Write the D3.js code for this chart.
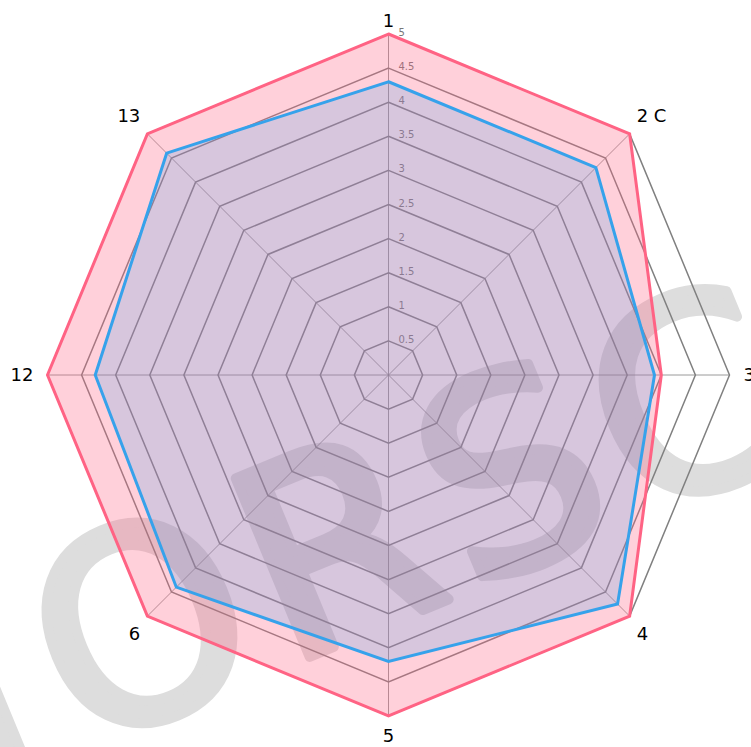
<!DOCTYPE html>
<html>
<head>
  <title>Radar</title>
  <script src="https://d3js.org/d3.v7.min.js"></script>
  <style>
    body { margin: 0; background: #fff; }
    svg { display: block; }
  </style>
</head>
<body>
</body>
</html>
<script>
// axis names, clockwise from the top
var axisLabels = ["1", "2 C", "3", "4", "5", "6", "12", "13"];
// pink series
var redValues = [5, 5, 4, 5, 5, 5, 5, 5];
// blue series
var blueValues = [4.3, 4.3, 3.9, 4.75, 4.2, 4.4, 4.3, 4.6];
var tickValues = [0.5, 1, 1.5, 2, 2.5, 3, 3.5, 4, 4.5, 5];
var tickLabels = ["0.5", "1", "1.5", "2", "2.5", "3", "3.5", "4", "4.5", "5"];

var width = 751, height = 747;
var cx = 388.5, cy = 375, radius = 341;

var svg = d3.select("body").append("svg")
  .attr("width", width).attr("height", height);

// watermark behind everything
var wm = svg.append("g")
  .attr("transform", "translate(80,752) rotate(-22.5)")
  .style("font-family", "'DejaVu Sans', sans-serif")
  .style("font-size", "265px")
  .style("letter-spacing", "14px")
  .attr("fill", "#dddddd")
  .attr("stroke", "#dddddd")
  .attr("stroke-width", 10)
  .attr("stroke-linejoin", "round");
wm.append("text").attr("text-anchor", "end").attr("x", -14).text("M");
wm.append("text").attr("text-anchor", "start").text("ORSC");

var r = d3.scaleLinear().domain([0, 5]).range([0, radius]);
var angle = d3.scaleLinear().domain([0, axisLabels.length]).range([0, 2 * Math.PI]);

var g = svg.append("g").attr("transform", "translate(" + cx + "," + cy + ")");

var ring = d3.lineRadial()
  .angle(function(d, i) { return angle(i); })
  .radius(function(d) { return r(d); })
  .curve(d3.curveLinearClosed);

// grid rings
g.selectAll("path.ring").data(tickValues).enter()
  .append("path")
  .attr("class", "ring")
  .attr("d", function(t) { return ring(axisLabels.map(function() { return t; })); })
  .attr("fill", "none")
  .attr("stroke", "#808080")
  .attr("stroke-width", 1.5);

// spokes
g.selectAll("line.spoke").data(axisLabels).enter()
  .append("line")
  .attr("class", "spoke")
  .attr("x1", 0).attr("y1", 0)
  .attr("x2", function(d, i) { return r(5) * Math.sin(angle(i)); })
  .attr("y2", function(d, i) { return -r(5) * Math.cos(angle(i)); })
  .attr("stroke", "#808080")
  .attr("stroke-width", 0.8);

// tick labels
g.selectAll("text.tick").data(tickValues).enter()
  .append("text")
  .attr("class", "tick")
  .attr("x", 10)
  .attr("y", function(t) { return -r(t) + 2; })
  .style("font-family", "'DejaVu Sans', sans-serif")
  .style("font-size", "10px")
  .attr("fill", "#777")
  .text(function(t, i) { return tickLabels[i]; });

// datasets
var datasets = [
  { values: redValues, stroke: "rgb(255,99,132)", fill: "rgba(255,99,132,0.3)" },
  { values: blueValues, stroke: "rgb(54,162,235)", fill: "rgba(54,162,235,0.2)" }
];
g.selectAll("path.series").data(datasets).enter()
  .append("path")
  .attr("class", "series")
  .attr("d", function(d) { return ring(d.values); })
  .attr("fill", function(d) { return d.fill; })
  .attr("stroke", function(d) { return d.stroke; })
  .attr("stroke-width", 3)
  .attr("stroke-linejoin", "miter");

// axis labels
g.selectAll("text.axis").data(axisLabels).enter()
  .append("text")
  .attr("class", "axis")
  .style("font-family", "'DejaVu Sans', sans-serif")
  .style("font-size", "18px")
  .attr("fill", "#000")
  .each(function(d, i) {
    var a = angle(i);
    var s = Math.sin(a), c = Math.cos(a);
    var x = (radius + 10) * s, y = -(radius + 10) * c;
    var anchor = "middle";
    if (s > 0.01) anchor = "start";
    if (s < -0.01) anchor = "end";
    if (Math.abs(c) < 0.01) x += 4 * Math.sign(s);
    if (c > 0.99) y += 3;
    else if (c > 0.3) y -= 5;
    else if (c < -0.99) y += 16;
    else if (c < -0.3) y += 17;
    else y += 6;
    d3.select(this).attr("x", x).attr("y", y).attr("text-anchor", anchor).text(d);
  });
</script>
